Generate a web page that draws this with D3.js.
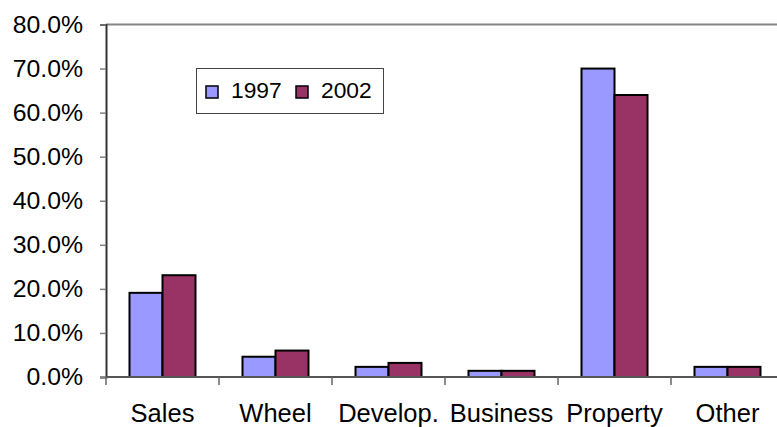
<!DOCTYPE html>
<html><head><meta charset="utf-8">
<script src="https://cdn.jsdelivr.net/npm/d3@7"></script>
<style>body{margin:0;background:#fff}svg{display:block}text{font-family:"Liberation Sans",Arial,sans-serif}</style>
</head><body><svg id="c" width="777" height="427"></svg>
<script>
const categories = ["Sales","Wheel","Develop.","Business","Property","Other"];
const series = ["1997","2002"];
const values1997 = [0.191, 0.046, 0.023, 0.014, 0.700, 0.023];
const values2002 = [0.231, 0.060, 0.032, 0.014, 0.640, 0.023];
const yTicks = [0,0.1,0.2,0.3,0.4,0.5,0.6,0.7,0.8];
const colors = ["#9999FF","#993366"];

const svg = d3.select("#c");
const x0 = 106, x1 = 784, yTop = 24.5, yBot = 377;
const x = d3.scaleBand().domain(categories).range([x0, x1]).padding(0);
const step = x.bandwidth();
const xs = d3.scaleBand().domain(series).range([(step-66)/2, (step+66)/2]).padding(0);
const y = d3.scaleLinear().domain([0,0.8]).range([yBot, yTop]);

// top border line
svg.append("line").attr("x1", x0).attr("x2", 777).attr("y1", y(0.8)).attr("y2", y(0.8))
  .attr("stroke","#858585").attr("stroke-width",2);

const data = [values1997, values2002];
const g = svg.append("g");
categories.forEach((c,i)=>{
  series.forEach((s,j)=>{
    const v = data[j][i];
    g.append("rect")
      .attr("x", x(c)+xs(s)).attr("width", xs.bandwidth())
      .attr("y", y(v)).attr("height", y(0)-y(v))
      .attr("fill", colors[j]).attr("stroke","#000").attr("stroke-width",2);
  });
});

// y axis
const ya = svg.append("g").attr("transform",`translate(${x0},0)`)
  .call(d3.axisLeft(y).tickValues(yTicks).tickFormat(d3.format(".1%")).tickSize(6).tickPadding(17));
ya.select(".domain").attr("stroke","#333").attr("stroke-width",2);
ya.selectAll(".tick line").attr("stroke","#808080").attr("stroke-width",1.5);
ya.selectAll("text").attr("font-size",24.8).attr("fill","#000").attr("font-family","Liberation Sans, Arial, sans-serif");

// x axis
const xa = svg.append("g").attr("transform",`translate(0,${yBot})`)
  .call(d3.axisBottom(x).tickSize(0).tickPadding(0));
xa.select(".domain").remove();
svg.append("line").attr("x1",x0).attr("x2",777).attr("y1",yBot).attr("y2",yBot).attr("stroke","#555").attr("stroke-width",2);
categories.forEach(c=>{
  svg.append("line").attr("x1",x(c)).attr("x2",x(c)).attr("y1",yBot).attr("y2",yBot+8).attr("stroke","#666").attr("stroke-width",1.5);
});
xa.selectAll("text").attr("font-size",25.5).attr("fill","#000").attr("y",45).attr("dy",0)
  .attr("font-family","Liberation Sans, Arial, sans-serif");

// legend
const lg = svg.append("g");
lg.append("rect").attr("x",196.5).attr("y",68.5).attr("width",187).attr("height",45)
  .attr("fill","#fff").attr("stroke","#444").attr("stroke-width",1);
const lx = [206, 296];
series.forEach((s,j)=>{
  lg.append("rect").attr("x",lx[j]).attr("y",86).attr("width",12).attr("height",12)
    .attr("fill",colors[j]).attr("stroke","#000").attr("stroke-width",1.5);
  lg.append("text").attr("x",lx[j]+25).attr("y",98).attr("font-size",22.8).text(s);
});
</script></body></html>
